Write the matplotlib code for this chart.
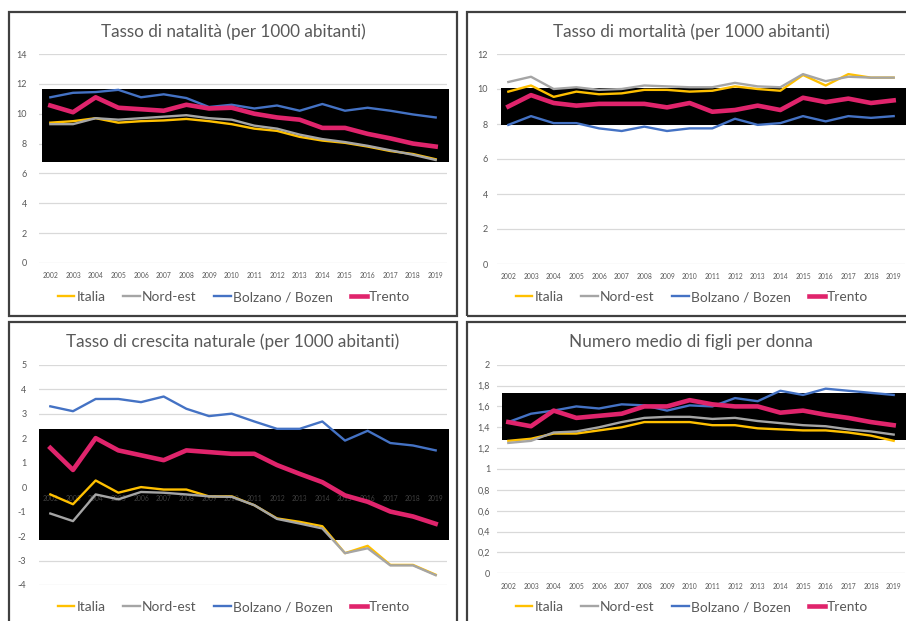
import matplotlib.pyplot as plt
from matplotlib.patches import Rectangle

plt.rcParams['font.family'] = ['Lato', 'DejaVu Sans']

W, H = 906, 621

years = list(range(2002, 2020))
series_names = ["Italia", "Nord-est", "Bolzano / Bozen", "Trento"]
series_colors = ["#FFC000", "#A5A5A5", "#4472C4", "#E0246C"]
series_widths = [1.7, 1.7, 1.7, 3.3]

# Tasso di natalità
natalita_italia = [9.4, 9.5, 9.7, 9.4, 9.5, 9.55, 9.65, 9.5, 9.3, 9.0, 8.85, 8.45, 8.2, 8.05, 7.8, 7.5, 7.3, 6.95]
natalita_nordest = [9.3, 9.3, 9.7, 9.6, 9.7, 9.8, 9.9, 9.7, 9.6, 9.2, 9.0, 8.6, 8.3, 8.1, 7.85, 7.55, 7.25, 6.9]
natalita_bolzano = [11.1, 11.4, 11.45, 11.6, 11.1, 11.3, 11.05, 10.45, 10.6, 10.35, 10.55, 10.2, 10.65, 10.2, 10.4, 10.2, 9.95, 9.75]
natalita_trento = [10.55, 10.1, 11.1, 10.4, 10.3, 10.2, 10.6, 10.35, 10.4, 10.0, 9.75, 9.6, 9.05, 9.05, 8.65, 8.35, 8.0, 7.8]

# Tasso di mortalità
mortalita_italia = [9.85, 10.2, 9.55, 9.85, 9.7, 9.75, 9.95, 9.95, 9.85, 9.9, 10.15, 10.0, 9.9, 10.8, 10.2, 10.85, 10.65, 10.65]
mortalita_nordest = [10.4, 10.7, 10.0, 10.1, 9.95, 10.0, 10.2, 10.15, 10.1, 10.1, 10.35, 10.15, 10.1, 10.85, 10.45, 10.7, 10.65, 10.65]
mortalita_bolzano = [7.95, 8.45, 8.05, 8.05, 7.75, 7.6, 7.85, 7.6, 7.75, 7.75, 8.3, 7.95, 8.05, 8.45, 8.15, 8.45, 8.35, 8.45]
mortalita_trento = [9.0, 9.65, 9.2, 9.05, 9.15, 9.15, 9.15, 8.95, 9.2, 8.7, 8.8, 9.05, 8.8, 9.5, 9.25, 9.45, 9.2, 9.35]

# Tasso di crescita naturale
crescita_italia = [-0.3, -0.7, 0.27, -0.23, 0.0, -0.1, -0.1, -0.38, -0.38, -0.74, -1.28, -1.42, -1.6, -2.7, -2.4, -3.18, -3.18, -3.58]
crescita_nordest = [-1.08, -1.39, -0.3, -0.5, -0.2, -0.23, -0.3, -0.38, -0.4, -0.74, -1.3, -1.49, -1.69, -2.7, -2.5, -3.2, -3.2, -3.6]
crescita_bolzano = [3.3, 3.1, 3.6, 3.6, 3.47, 3.7, 3.2, 2.9, 3.0, 2.68, 2.38, 2.38, 2.68, 1.9, 2.3, 1.8, 1.7, 1.5]
crescita_trento = [1.6, 0.7, 2.0, 1.5, 1.3, 1.1, 1.5, 1.43, 1.36, 1.36, 0.9, 0.54, 0.2, -0.34, -0.6, -1.0, -1.2, -1.5]

# Numero medio di figli per donna
figli_italia = [1.27, 1.29, 1.34, 1.34, 1.37, 1.40, 1.45, 1.45, 1.45, 1.42, 1.42, 1.39, 1.38, 1.37, 1.37, 1.35, 1.32, 1.27]
figli_nordest = [1.25, 1.27, 1.35, 1.36, 1.40, 1.45, 1.49, 1.50, 1.50, 1.48, 1.49, 1.46, 1.44, 1.42, 1.41, 1.38, 1.36, 1.33]
figli_bolzano = [1.45, 1.53, 1.56, 1.60, 1.58, 1.62, 1.61, 1.56, 1.61, 1.60, 1.68, 1.65, 1.75, 1.71, 1.77, 1.75, 1.73, 1.71]
figli_trento = [1.45, 1.41, 1.56, 1.49, 1.51, 1.53, 1.60, 1.60, 1.66, 1.62, 1.60, 1.60, 1.54, 1.56, 1.52, 1.49, 1.45, 1.42]

titles = [
    "Tasso di natalità (per 1000 abitanti)",
    "Tasso di mortalità (per 1000 abitanti)",
    "Tasso di crescita naturale (per 1000 abitanti)",
    "Numero medio di figli per donna",
]

TEXT = "#595959"


def fig_box(x0, y0, x1, y1):
    # pixel box (top-left origin) -> figure fraction rect
    return [x0 / W, 1 - y1 / H, (x1 - x0) / W, (y1 - y0) / H]


fig = plt.figure(figsize=(W / 100, H / 100), dpi=100)

panels = [
    dict(data=[natalita_italia, natalita_nordest, natalita_bolzano, natalita_trento],
         frame=(9, 12), plot=(39, 54, 447, 263), ylim=(0, 14), step=2, comma=False,
         black=((0.007, 1.005), (6.78, 11.68)), year_y=-0.87, pad=8.5),
    dict(data=[mortalita_italia, mortalita_nordest, mortalita_bolzano, mortalita_trento],
         frame=(467, 12), plot=(497, 54, 905, 264), ylim=(0, 12), step=2, comma=False,
         black=((0.01, 1.05), (7.94, 10.06)), year_y=-0.73, pad=6.5),
    dict(data=[crescita_italia, crescita_nordest, crescita_bolzano, crescita_trento],
         frame=(9, 322), plot=(39, 364.7, 447, 585), ylim=(-4, 5), step=1, comma=False,
         black=((0.0, 1.005), (-2.18, 2.36)), year_y=-0.46, pad=9),
    dict(data=[figli_italia, figli_nordest, figli_bolzano, figli_trento],
         frame=(467, 322), plot=(497, 364.7, 905, 573.3), ylim=(0, 2), step=0.2, comma=True,
         black=((0.012, 1.05), (1.28, 1.73)), year_y=-0.128, pad=5),
]

for title, p in zip(titles, panels):
    fx, fy = p["frame"]
    # chart frame
    fig.patches.append(Rectangle((fx / W, 1 - (fy + 304) / H), 448 / W, 304 / H,
                                 transform=fig.transFigure, fill=False,
                                 edgecolor="#404040", linewidth=1.6))
    fig.text((fx + 224) / W, 1 - (fy + 20) / H, title, ha="center", va="center",
             fontsize=12.3, color=TEXT)

    ax = fig.add_axes(fig_box(*p["plot"]))
    ax.set_facecolor("none")
    lo, hi = p["ylim"]
    ax.set_ylim(lo, hi)
    ax.set_xlim(-0.5, len(years) - 0.5)
    n = int(round((hi - lo) / p["step"]))
    ticks = [lo + k * p["step"] for k in range(n + 1)]
    ax.set_yticks(ticks)
    if p["comma"]:
        ax.set_yticklabels([f"{t:g}".replace(".", ",") if abs(t) > 1e-9 else "0"
                            for t in [round(t, 1) for t in ticks]])
    else:
        ax.set_yticklabels([f"{t:g}" for t in ticks])
    ax.tick_params(axis="y", length=0, labelsize=6.5, labelcolor=TEXT, pad=p["pad"])
    ax.set_xticks([])
    for s in ax.spines.values():
        s.set_visible(False)
    ax.grid(axis="y", color="#d9d9d9", linewidth=0.9)
    ax.set_axisbelow(True)

    (bx0, bx1), (by0, by1) = p["black"]
    ax.add_patch(Rectangle((bx0, by0), bx1 - bx0, by1 - by0,
                           transform=ax.get_yaxis_transform(), facecolor="black",
                           edgecolor="none", zorder=1, clip_on=False))

    for i, y in enumerate(years):
        ax.text(i, p["year_y"], str(y), ha="center", va="center", fontsize=4.9,
                color="#404040" if p["ylim"][0] < 0 else TEXT, zorder=1.5, clip_on=False)

    x = list(range(len(years)))
    for vals, name, c, lw in zip(p["data"], series_names, series_colors, series_widths):
        ax.plot(x, vals, color=c, linewidth=lw, label=name, zorder=2,
                solid_joinstyle="round", clip_on=False)

    ax.legend(loc="center", bbox_to_anchor=((fx + 225) / W, 1 - (fy + 285) / H),
              bbox_transform=fig.transFigure, ncol=4, frameon=False, fontsize=9.9,
              labelcolor=TEXT, handlelength=1.2, handletextpad=0.15, columnspacing=1.3,
              borderpad=0)

fig.savefig("out.png", dpi=100)
